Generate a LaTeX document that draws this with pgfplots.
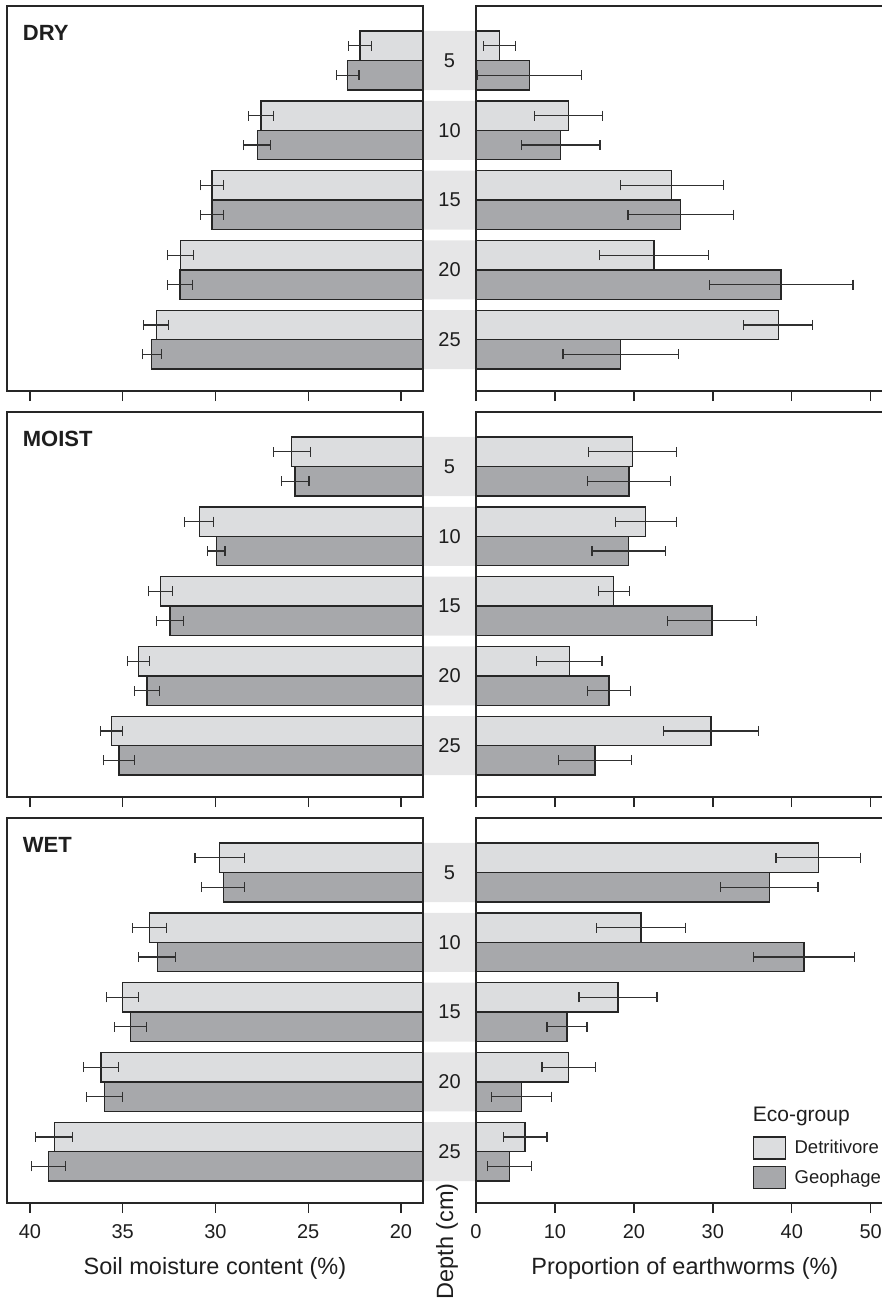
\documentclass[border=0pt]{standalone}
\usepackage{pgfplots}
\pgfplotsset{compat=1.18}
\usepackage{pgfplotstable}
\usepackage{fontspec}
\setmainfont{Liberation Sans}
\definecolor{lightbar}{HTML}{DCDDDF}
\definecolor{darkbar}{HTML}{A7A8AB}
\definecolor{bandcol}{HTML}{E6E6E7}
\definecolor{axcol}{HTML}{262626}
\definecolor{errcol}{HTML}{303030}
\definecolor{txtcol}{HTML}{1E1E1E}

% depth, soil moisture (det, err, geo, err), proportion of earthworms (det, err, geo, err)
\pgfplotstableread{
depth smdet smdete smgeo smgeoe pedet pedete pegeo pegeoe
5  22.21 0.63 22.87 0.61  3.00 2.03  6.76 6.63
10 27.55 0.69 27.75 0.72 11.70 4.33 10.72 4.98
15 30.19 0.60 30.19 0.60 24.79 6.52 25.93 6.69
20 31.88 0.71 31.91 0.67 22.55 6.90 38.64 9.10
25 33.19 0.67 33.44 0.51 38.30 4.37 18.33 7.30
}\dry
\pgfplotstableread{
depth smdet smdete smgeo smgeoe pedet pedete pegeo pegeoe
5  25.89 0.99 25.71 0.75 19.85 5.57 19.38 5.28
10 30.87 0.78 29.96 0.47 21.50 3.86 19.34 4.66
15 32.97 0.65 32.45 0.71 17.44 1.96 29.90 5.60
20 34.14 0.59 33.69 0.66 11.82 4.14 16.85 2.68
25 35.60 0.59 35.20 0.83 29.77 5.99 15.07 4.58
}\moist
\pgfplotstableread{
depth smdet smdete smgeo smgeoe pedet pedete pegeo pegeoe
5  29.77 1.34 29.58 1.16 43.37 5.36 37.16 6.17
10 33.57 0.91 33.14 0.99 20.90 5.60 41.55 6.40
15 35.00 0.86 34.59 0.85 17.99 4.94 11.53 2.53
20 36.17 0.95 35.97 0.97 11.74 3.38  5.74 3.80
25 38.69 1.00 38.99 0.91  6.21 2.77  4.27 2.77
}\wet
\pgfplotstableread{
depth band
5  1
10 1
15 1
20 1
25 1
}\bands

\tikzset{
  paneltitle/.style={anchor=base west, inner sep=0pt, font=\bfseries\fontsize{22}{26}\selectfont, text=txtcol},
  depthlab/.style={font=\fontsize{20}{24}\selectfont, text=txtcol},
}
\pgfplotsset{
  panel/.style={scale only axis, height=385pt, y dir=reverse, ymin=1.096, ymax=28.675,
    ytick=\empty, xbar, bar width=2.11,
    tick align=outside, xtick pos=bottom, major tick length=10pt,
    axis line style={line width=1.4pt, draw=axcol},
    every tick/.style={line width=1.4pt, draw=axcol},
    /pgf/number format/assume math mode=true,
    ticklabel style={font=\fontsize{20}{24}\selectfont, text=txtcol},
    axis on top},
  leftpanel/.style={panel, width=416pt, x dir=reverse, xmin=18.814, xmax=41.24, xtick={20,25,30,35,40}},
  rightpanel/.style={panel, width=408pt, xmin=0, xmax=51.68, xtick={0,10,20,30,40,50}},
  nolabels/.style={xticklabels={{},{},{},{},{},{}}},
  midpanel/.style={scale only axis, height=385pt, width=53pt, y dir=reverse, ymin=1.096, ymax=28.675,
    xmin=0, xmax=1, hide axis, xbar, bar width=4.23},
  errs/.style={error bars/.cd, x dir=both, x explicit,
    error bar style={line width=1.2pt, draw=errcol},
    error mark options={rotate=90, line width=1.2pt, draw=errcol, mark size=5pt}},
  detbar/.style={fill=lightbar, draw=axcol, line width=1.4pt, bar shift=-1.055,
    legend image code/.code={\draw[fill=lightbar, draw=axcol, line width=1.4pt] (0pt,-11pt) rectangle (32pt,11pt);}, errs},
  geobar/.style={fill=darkbar, draw=axcol, line width=1.4pt, bar shift=1.055,
    legend image code/.code={\draw[fill=darkbar, draw=axcol, line width=1.4pt] (0pt,-11pt) rectangle (32pt,11pt);}, errs},
}
\newcommand{\depthlabels}{%
  \node[depthlab] at (axis cs:0.5,5) {5};
  \node[depthlab] at (axis cs:0.5,10) {10};
  \node[depthlab] at (axis cs:0.5,15) {15};
  \node[depthlab] at (axis cs:0.5,20) {20};
  \node[depthlab] at (axis cs:0.5,25) {25};}

\begin{document}
\begin{tikzpicture}
\useasboundingbox (0pt,0pt) rectangle (882pt,-1301pt);

% ---------------- DRY ----------------
\begin{axis}[midpanel, at={(423pt,-391pt)}, anchor=south west]
\addplot[fill=bandcol, draw=none] table[x=band, y=depth] {\bands};
\depthlabels
\end{axis}
\begin{axis}[leftpanel, nolabels, at={(7pt,-391pt)}, anchor=south west]
\addplot[detbar] table[x=smdet, y=depth, x error=smdete] {\dry};
\addplot[geobar] table[x=smgeo, y=depth, x error=smgeoe] {\dry};
\node[paneltitle] at (axis description cs:0.0377,0.9099) {DRY};
\end{axis}
\begin{axis}[rightpanel, nolabels, at={(476pt,-391pt)}, anchor=south west]
\addplot[detbar] table[x=pedet, y=depth, x error=pedete] {\dry};
\addplot[geobar] table[x=pegeo, y=depth, x error=pegeoe] {\dry};
\end{axis}

% ---------------- MOIST ----------------
\begin{axis}[midpanel, at={(423pt,-797pt)}, anchor=south west]
\addplot[fill=bandcol, draw=none] table[x=band, y=depth] {\bands};
\depthlabels
\end{axis}
\begin{axis}[leftpanel, nolabels, at={(7pt,-797pt)}, anchor=south west]
\addplot[detbar] table[x=smdet, y=depth, x error=smdete] {\moist};
\addplot[geobar] table[x=smgeo, y=depth, x error=smgeoe] {\moist};
\node[paneltitle] at (axis description cs:0.0377,0.9099) {MOIST};
\end{axis}
\begin{axis}[rightpanel, nolabels, at={(476pt,-797pt)}, anchor=south west]
\addplot[detbar] table[x=pedet, y=depth, x error=pedete] {\moist};
\addplot[geobar] table[x=pegeo, y=depth, x error=pegeoe] {\moist};
\end{axis}

% ---------------- WET ----------------
\begin{axis}[midpanel, at={(423pt,-1203pt)}, anchor=south west]
\addplot[fill=bandcol, draw=none] table[x=band, y=depth] {\bands};
\depthlabels
\end{axis}
\begin{axis}[leftpanel, at={(7pt,-1203pt)}, anchor=south west,
  xticklabel style={yshift=-8pt},
  xlabel={Soil moisture content (\%)},
  xlabel style={font=\fontsize{23.5}{28}\selectfont, text=txtcol, at={(axis description cs:0.5,0)}, anchor=base, yshift=-71pt}]
\addplot[detbar] table[x=smdet, y=depth, x error=smdete] {\wet};
\addplot[geobar] table[x=smgeo, y=depth, x error=smgeoe] {\wet};
\node[paneltitle] at (axis description cs:0.0377,0.9099) {WET};
\end{axis}
\begin{axis}[rightpanel, at={(476pt,-1203pt)}, anchor=south west,
  xticklabel style={yshift=-8pt},
  xlabel={Proportion of earthworms (\%)},
  xlabel style={font=\fontsize{23.5}{28}\selectfont, text=txtcol, at={(axis description cs:0.512,0)}, anchor=base, yshift=-71pt},
  legend style={at={(axis description cs:0.678,0.174)}, anchor=north west, draw=none, fill=none,
    inner sep=0pt, row sep=6pt, font=\fontsize{18.5}{22}\selectfont, text=txtcol,
    nodes={inner sep=0pt},
    /tikz/every odd column/.append style={column sep=8.4pt}},
  legend cell align=left]
\addplot[detbar] table[x=pedet, y=depth, x error=pedete] {\wet};
\addlegendentry{Detritivore}
\addplot[geobar] table[x=pegeo, y=depth, x error=pegeoe] {\wet};
\addlegendentry{Geophage}
\node[anchor=base west, inner sep=0pt, font=\fontsize{21}{25}\selectfont, text=txtcol] at (axis description cs:0.678,0.211) {Eco-group};
\end{axis}

\node[rotate=90, font=\fontsize{23.5}{28}\selectfont, text=txtcol] at (447pt,-1241.5pt) {Depth (cm)};
\end{tikzpicture}
\end{document}
